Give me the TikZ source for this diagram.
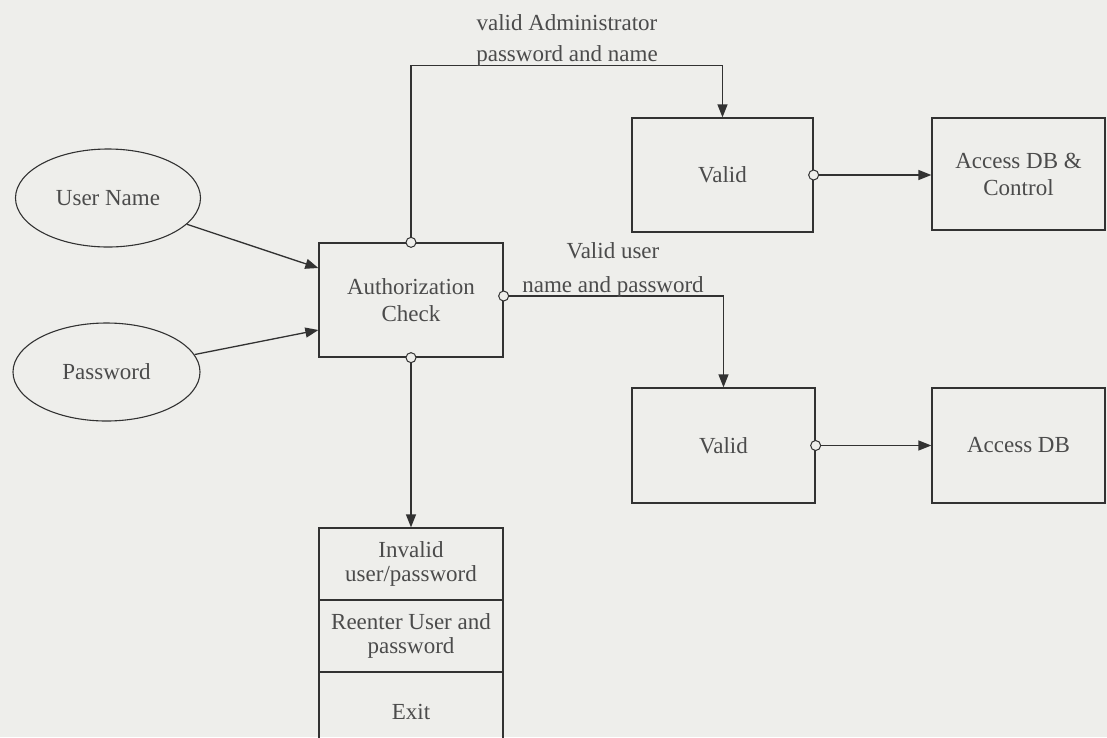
\documentclass[tikz,border=0pt]{standalone}
\usepackage{fontspec}
\setmainfont{Liberation Serif}
\usetikzlibrary{arrows.meta,shapes.geometric}
\definecolor{paper}{RGB}{238,238,235}
\definecolor{ink}{RGB}{50,50,50}
\definecolor{txt}{RGB}{75,75,75}
\begin{document}
\begin{tikzpicture}[x=1pt,y=-1pt,
  font=\fontsize{23}{27}\selectfont,
  box/.style={draw=ink,line width=1.3pt,rectangle,align=center,inner sep=0pt,text=txt},
  oval/.style={draw=ink,line width=1.1pt,ellipse,inner sep=0pt,text=txt},
  port/.style={circle,draw=ink,line width=1pt,fill=paper,minimum size=10pt,inner sep=0pt},
  flow/.style={draw=ink,line width=1.3pt,-{Triangle[length=13pt,width=10pt]}},
  lbl/.style={align=center,inner sep=0pt,text=txt}]
\fill[paper] (0,0) rectangle (1107,737);
\useasboundingbox (0,0) rectangle (1107,737);

% inputs
\node[oval,minimum width=185pt,minimum height=98pt] (user) at (108,198) {User Name};
\node[oval,minimum width=187pt,minimum height=98pt] (pass) at (106.5,372) {Password};

% central check
\node[box,minimum width=184pt,minimum height=114pt] (auth) at (411,300) {Authorization\\Check};

% valid branches
\node[box,minimum width=181pt,minimum height=114pt] (valid1) at (722.5,175) {Valid};
\node[box,minimum width=173pt,minimum height=112pt] (acc1) at (1018.5,174) {Access DB \&\\Control};
\node[box,minimum width=183pt,minimum height=115pt] (valid2) at (723.5,445.5) {Valid};
\node[box,minimum width=173pt,minimum height=115pt] (acc2) at (1018.5,445.5) {Access DB};

% invalid branch
\node[box,minimum width=184pt,minimum height=72pt,font=\fontsize{23}{24}\selectfont] (inv) at (411,564) {Invalid\\user/password};
\node[box,minimum width=184pt,minimum height=72pt,font=\fontsize{23}{24}\selectfont] (reent) at (411,636) {Reenter User and\\password};
\node[box,minimum width=184pt,minimum height=80pt] (exit) at (411,712) {Exit};

% ports
\node[port] (p1) at (auth.north) {};
\node[port] (p2) at ([yshift=4pt]auth.east) {};
\node[port] (p3) at (auth.south) {};
\node[port] (p4) at (valid1.east) {};
\node[port] (p5) at (valid2.east) {};

% connectors
\coordinate (ua) at ([yshift=32pt]auth.west);
\coordinate (pa) at ([yshift=-30pt]auth.west);
\draw[flow] (user) -- (ua);
\draw[flow] (pass) -- (pa);
\draw[flow] (p1) |- ([yshift=52pt]valid1.north) -- (valid1.north);
\draw[flow] (p2) -| (valid2.north);
\draw[flow] (p3) -- (inv.north);
\draw[flow] (p4) -- (p4 -| acc1.west);
\draw[flow] (p5) -- (p5 -| acc2.west);

% labels
\node[lbl,anchor=south,font=\fontsize{23}{31}\selectfont] (l1) at (567,67) {valid Administrator\\password and name};
\node[lbl,anchor=south,font=\fontsize{23}{34}\selectfont] (l2) at (613,297.5) {Valid user\\name and password};
\end{tikzpicture}
\end{document}
